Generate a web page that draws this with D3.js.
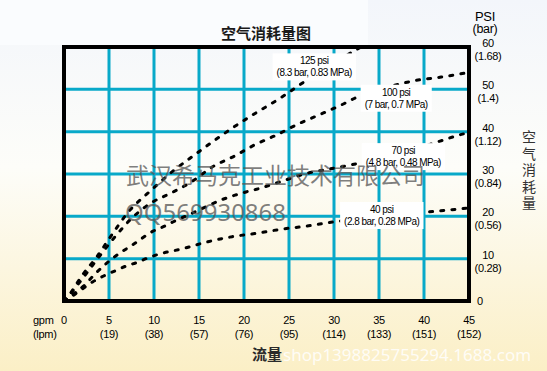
<!DOCTYPE html>
<html>
<head>
<meta charset="utf-8">
<script src="https://cdn.jsdelivr.net/npm/d3@7"></script>
<style>
  body { margin: 0; }
  svg { display: block; }
</style>
</head>
<body>
<div id="chart"></div>
<script>
// Flow (gpm) ticks along the bottom and their lpm labels
const gpmTicks = [0, 5, 10, 15, 20, 25, 30, 35, 40, 45];
const lpmLabels = ["", "(19)", "(38)", "(57)", "(76)", "(95)", "(114)", "(133)", "(151)", "(152)"];

// Right axis ticks and bar labels
const psiTicks = [0, 10, 20, 30, 40, 50, 60];
const barLabels = ["", "(0.28)", "(0.56)", "(0.84)", "(1.12)", "(1.4)", "(1.68)"];

// Air consumption curves (x = gpm, y = axis value)
const gpm125 = [0, 0.5, 2, 3.7, 5.3, 7.1, 9.7, 12, 14.5, 16.7, 18.8, 21, 24.3, 26.5, 28.5, 30.4, 32, 33];
const air125 = [0, 1.2, 6, 10.6, 15.6, 20.9, 26.2, 30.5, 34.5, 37.9, 41, 44, 48.3, 51.5, 54.2, 56.7, 58.8, 60];

const gpm100 = [0, 1.4, 3.2, 5.6, 7.5, 9.7, 11.9, 14.2, 16.5, 19, 21.2, 23.4, 26, 28.6, 31.1, 32.4, 36.3, 39.1, 41.9, 45];
const air100 = [0, 3.5, 8.5, 15, 19.5, 23.2, 25.5, 28.2, 31.7, 34.3, 36.9, 39, 41.8, 44.2, 46.6, 48, 50.7, 52.1, 52.9, 54];

const gpm70 = [0, 1, 2.2, 3.5, 5.6, 7.8, 9.9, 11.2, 12.5, 13.8, 15.5, 17.5, 19, 20.3, 21.4, 24.1, 26.7, 29.3, 32, 41.1, 42.4, 43.9, 45];
const air70 = [0, 1.6, 3.6, 6.5, 10.4, 13.5, 16.5, 17.7, 19.1, 20.3, 22, 23.9, 25, 25.8, 26.4, 28.2, 30, 31.1, 32.2, 37.3, 38.2, 39.2, 39.8];

const gpm40 = [0, 1, 2, 3.25, 4.4, 5.65, 6.95, 8.1, 9.35, 10.6, 13.1, 16, 18.7, 21.4, 24.3, 27, 30, 39.8, 43.7, 45];
const air40 = [0, 1.3, 2.8, 4.6, 5.9, 7.1, 8.3, 9.1, 10.2, 11.1, 12.3, 14, 15.2, 16, 17, 17.7, 18.7, 20.9, 21.7, 22];

// Curve labels: two text lines anchored at a (gpm, value) spot
const curveNames = ["125 psi", "100 psi", "70 psi", "40 psi"];
const curveSubs = ["(8.3 bar, 0.83 MPa)", "(7 bar, 0.7 MPa)", "(4.8 bar, 0.48 MPa)", "(2.8 bar, 0.28 MPa)"];
const labelGpm = [27.8, 36.9, 37.7, 35.3];
const labelAir = [56.6, 49.2, 35.4, 21.5];

class AirChart {
  constructor(_config) {
    this.config = {
      parentElement: _config.parentElement,
      containerWidth: 547,
      containerHeight: 371,
      plot: { left: 64, right: 469, top: 47, bottom: 301 },
    };
    this.series = [
      gpm125.map((g, i) => [g, air125[i]]),
      gpm100.map((g, i) => [g, air100[i]]),
      gpm70.map((g, i) => [g, air70[i]]),
      gpm40.map((g, i) => [g, air40[i]]),
    ];
    this.initVis();
  }

  initVis() {
    let vis = this;
    const p = vis.config.plot;

    vis.x = d3.scaleLinear().domain([0, 45]).range([p.left, p.right]);
    vis.y = d3.scaleLinear().domain([0, 60]).range([p.bottom, p.top]);

    vis.svg = d3
      .select(vis.config.parentElement)
      .append("svg")
      .attr("width", vis.config.containerWidth)
      .attr("height", vis.config.containerHeight);

    // page background fades from cool white to cream
    const grad = vis.svg
      .append("defs")
      .append("linearGradient")
      .attr("id", "bg")
      .attr("x1", 0).attr("y1", 0).attr("x2", 0).attr("y2", 1);
    grad.append("stop").attr("offset", "0%").attr("stop-color", "#f3f6fb");
    grad.append("stop").attr("offset", "45%").attr("stop-color", "#fdfdf9");
    grad.append("stop").attr("offset", "100%").attr("stop-color", "#fbefc6");

    vis.svg
      .append("rect")
      .attr("width", vis.config.containerWidth)
      .attr("height", vis.config.containerHeight)
      .attr("fill", "url(#bg)");

    vis.svg
      .append("rect")
      .attr("width", 368)
      .attr("height", 45)
      .attr("fill", "#fafcfe");

    vis.renderVis();
  }

  renderVis() {
    let vis = this;
    const p = vis.config.plot;
    const gridColor = "#08a9c9";
    const font = "'Liberation Sans', Arial, sans-serif";
    const cjk = "'Noto Sans CJK SC', sans-serif";

    // title
    vis.svg
      .append("text")
      .attr("x", 266)
      .attr("y", 38.5)
      .attr("text-anchor", "middle")
      .style("font-family", cjk)
      .style("font-size", "15px")
      .style("font-weight", "bold")
      .attr("fill", "#1a1a1a")
      .text("空气消耗量图");

    // grid lines
    const grid = vis.svg.append("g");
    grid
      .selectAll(".vline")
      .data(gpmTicks.slice(1, -1))
      .join("line")
      .attr("x1", (d) => vis.x(d))
      .attr("x2", (d) => vis.x(d))
      .attr("y1", p.top)
      .attr("y2", p.bottom)
      .attr("stroke", gridColor)
      .attr("stroke-width", 3);
    grid
      .selectAll(".hline")
      .data(psiTicks.slice(1, -1))
      .join("line")
      .attr("x1", p.left)
      .attr("x2", p.right)
      .attr("y1", (d) => vis.y(d))
      .attr("y2", (d) => vis.y(d))
      .attr("stroke", gridColor)
      .attr("stroke-width", 3);

    // dotted consumption curves
    const line = d3
      .line()
      .x((d) => vis.x(d[0]))
      .y((d) => vis.y(d[1]))
      .curve(d3.curveMonotoneX);

    vis.svg
      .append("g")
      .selectAll("path")
      .data(vis.series)
      .join("path")
      .attr("d", line)
      .attr("fill", "none")
      .attr("stroke", "#000")
      .attr("stroke-width", 3)
      .attr("stroke-linecap", "round")
      .attr("stroke-dasharray", "3 8.2");

    // curve labels on white patches
    const labels = vis.svg
      .append("g")
      .selectAll("g")
      .data(curveNames)
      .join("g")
      .attr("transform", (d, i) => `translate(${vis.x(labelGpm[i])},${vis.y(labelAir[i])})`);

    labels.each(function (d, i) {
      const g = d3.select(this);
      const t = g
        .append("text")
        .attr("text-anchor", "middle")
        .style("font-family", font)
        .style("font-size", "10px")
        .style("letter-spacing", "-0.55px")
        .attr("fill", "#000");
      t.append("tspan").attr("x", 0).attr("y", 3).text(d);
      t.append("tspan").attr("x", 0).attr("y", 15).text(curveSubs[i]);
      const bb = t.node().getBBox();
      g.insert("rect", "text")
        .attr("x", bb.x - 4)
        .attr("y", bb.y - 2)
        .attr("width", bb.width + 8)
        .attr("height", bb.height + 4)
        .attr("fill", "#fff");
    });

    // frame
    vis.svg
      .append("rect")
      .attr("x", p.left)
      .attr("y", p.top)
      .attr("width", p.right - p.left)
      .attr("height", p.bottom - p.top)
      .attr("fill", "none")
      .attr("stroke", "#000")
      .attr("stroke-width", 4);

    // bottom axis labels
    const bottom = vis.svg
      .append("g")
      .style("font-family", font)
      .style("font-size", "11px")
      .style("letter-spacing", "-0.3px")
      .attr("fill", "#000")
      .attr("text-anchor", "middle");
    bottom
      .selectAll(".num")
      .data(gpmTicks)
      .join("text")
      .attr("x", (d) => vis.x(d))
      .attr("y", 324)
      .text((d) => d);
    bottom
      .selectAll(".lpm")
      .data(gpmTicks)
      .join("text")
      .attr("x", (d) => vis.x(d))
      .attr("y", 338)
      .text((d, i) => lpmLabels[i]);
    bottom.append("text").attr("x", 33).attr("y", 324).attr("text-anchor", "start").text("gpm");
    bottom.append("text").attr("x", 33).attr("y", 338).attr("text-anchor", "start").text("(lpm)");

    vis.svg
      .append("text")
      .attr("x", 267)
      .attr("y", 360)
      .attr("text-anchor", "middle")
      .style("font-family", cjk)
      .style("font-size", "15px")
      .style("font-weight", "bold")
      .attr("fill", "#2a2a2a")
      .text("流量");

    // right axis labels
    const right = vis.svg
      .append("g")
      .style("font-family", font)
      .style("font-size", "11px")
      .style("letter-spacing", "-0.3px")
      .attr("fill", "#000")
      .attr("text-anchor", "middle");
    right
      .selectAll(".num")
      .data(psiTicks)
      .join("text")
      .attr("x", (d) => (d === 0 ? 480 : 488))
      .attr("y", (d) => (d === 0 ? vis.y(d) + 4 : vis.y(d)))
      .text((d) => d);
    right
      .selectAll(".bar")
      .data(psiTicks)
      .join("text")
      .attr("x", 488)
      .attr("y", (d) => vis.y(d) + 13)
      .text((d, i) => barLabels[i]);
    right.append("text").attr("x", 485).attr("y", 21).style("font-size", "13px").text("PSI");
    right.append("text").attr("x", 485).attr("y", 33).style("font-size", "12.5px").text("(bar)");

    vis.svg
      .append("g")
      .selectAll("text")
      .data("空气消耗量".split(""))
      .join("text")
      .attr("x", 529)
      .attr("y", (d, i) => 142 + i * 16.6)
      .attr("text-anchor", "middle")
      .style("font-family", cjk)
      .style("font-size", "14px")
      .attr("fill", "#333")
      .text((d) => d);

    // watermarks as they appear on the source image
    vis.svg
      .append("text")
      .attr("x", 126)
      .attr("y", 184)
      .style("font-family", cjk)
      .style("font-size", "23px")
      .attr("fill", "#555")
      .attr("fill-opacity", 0.75)
      .text("武汉希马克工业技术有限公司");
    vis.svg
      .append("text")
      .attr("x", 125)
      .attr("y", 221)
      .style("font-family", "'Noto Sans', sans-serif")
      .style("font-size", "24px")
      .attr("fill", "#555")
      .attr("fill-opacity", 0.75)
      .text("QQ569930868");
    vis.svg
      .append("text")
      .attr("x", 283)
      .attr("y", 361)
      .style("font-family", "'Noto Sans', sans-serif")
      .style("font-size", "17px")
      .attr("fill", "#fff")
      .attr("fill-opacity", 0.85)
      .text("shop1398825755294.1688.com");
  }
}

new AirChart({ parentElement: "#chart" });
</script>
</body>
</html>
